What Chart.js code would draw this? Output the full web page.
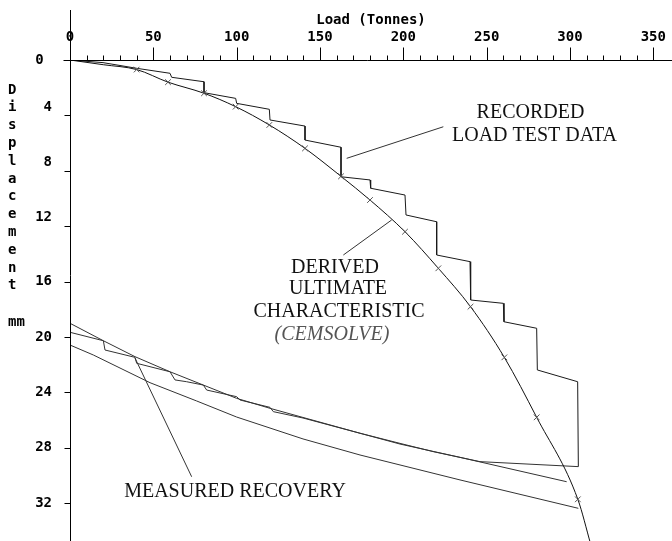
<!DOCTYPE html>
<html>
<head>
<meta charset="utf-8">
<script src="https://cdn.jsdelivr.net/npm/chart.js@4.4.1/dist/chart.umd.min.js"></script>
<style>
  html, body { margin: 0; padding: 0; background: #fff; }
  #wrap { width: 672px; height: 541px; }
</style>
</head>
<body>
<div id="wrap"><canvas id="chart" width="672" height="541"></canvas></div>
<script>
/* ===== DATA ===== */
// recorded load test, loading stages (load in tonnes, displacement in mm)
const loadTestLoad = [0, 19.8, 40.0, 60.0, 61.0, 80.4, 80.4, 99.4, 100.0, 119.6, 120.0, 141.0, 141.0, 162.6, 162.6,
  180.0, 180.4, 201.0, 201.6, 220.0, 220.0, 240.0, 240.4, 260.0, 260.4, 280.0, 280.4, 304.6, 305.0];
const loadTestDisp = [0, 0.19, 0.60, 0.96, 1.25, 1.57, 2.36, 2.77, 3.13, 3.56, 4.33, 4.77, 5.78, 6.30, 8.43,
  8.66, 9.26, 9.75, 11.19, 11.68, 14.08, 14.56, 17.33, 17.57, 18.90, 19.37, 22.38, 23.23, 29.36];

// recorded unloading (measured recovery)
const recoveryLoad = [305.0, 246.0, 218.0, 198.0, 174.0, 139.8, 122.0, 120.0, 102.0, 100.0, 82.0, 80.0, 70.0, 63.0,
  60.0, 40.0, 39.0, 21.0, 20.0, 0];
const recoveryDisp = [29.36, 29.00, 28.28, 27.68, 26.95, 25.85, 25.39, 25.08, 24.55, 24.31, 23.83, 23.47, 23.23, 23.10,
  22.51, 21.90, 21.47, 20.94, 20.27, 19.66];

// recovery lines starting on the derived curve
const upperRecoveryLoad = [298.0, 234.0, 198.0, 174.0, 120.0, 100.0, 80.0, 60.0, 39.0, 20.0, 0];
const upperRecoveryDisp = [30.45, 28.69, 27.73, 26.95, 25.15, 24.43, 23.47, 22.51, 21.42, 20.27, 19.01];
const lowerRecoveryLoad = [305.0, 234.0, 198.0, 174.0, 139.8, 100.0, 76.0, 48.0, 14.0, 0];
const lowerRecoveryDisp = [32.37, 30.32, 29.24, 28.52, 27.36, 25.78, 24.62, 23.30, 21.30, 20.58];

// derived ultimate characteristic (CEMSOLVE)
const derivedLoad = [0, 20, 40.0, 58.8, 80.4, 99.4, 119.6, 141.0, 162.6, 180.0, 201.0, 221.0, 240.3, 260.6, 280.0, 304.7, 312.5];
const derivedDisp = [0, 0.34, 0.69, 1.60, 2.40, 3.37, 4.69, 6.38, 8.40, 10.11, 12.40, 15.04, 17.81, 21.47, 25.80, 31.72, 35.0];
const derivedHasMarker = [false, false, true, true, true, true, true, true, true, true, true, true, true, true, true, true, false];

// leader lines for the notes
const leaderRecordedLoad = [166.0, 224.0];
const leaderRecordedDisp = [7.10, 4.82];
const leaderDerivedLoad = [164.0, 193.0];
const leaderDerivedDisp = [14.08, 11.55];
const leaderMeasuredLoad = [39.0, 73.0];
const leaderMeasuredDisp = [21.52, 30.09];

// notes, anchored at their centre
const noteText = ['RECORDED', 'LOAD TEST DATA', 'DERIVED', 'ULTIMATE', 'CHARACTERISTIC', '(CEMSOLVE)', 'MEASURED RECOVERY'];
const noteLoad = [276.3, 278.7, 159.0, 160.8, 161.4, 157.2, 99.0];
const noteDisp = [3.81, 5.45, 15.02, 16.53, 18.17, 19.86, 31.17];

// axes
const xTickLabels = [0, 50, 100, 150, 200, 250, 300, 350];
const yTickLabels = [0, 4, 8, 12, 16, 20, 24, 28, 32];
const yTitle = 'Displacement';
const yUnit = 'mm';

const pts = (xs, ys) => xs.map((v, i) => ({ x: v, y: ys[i] }));

/* ===== PAINTING ===== */
const monoFont = { family: '"DejaVu Sans Mono", monospace', size: 14, weight: 'bold' };

const axisPainter = {
  id: 'axisPainter',
  afterDatasetsDraw(chart) {
    const { ctx, scales: { x, y }, chartArea } = chart;
    const x0 = Math.round(x.getPixelForValue(0)) + 0.5;
    const y0 = Math.round(y.getPixelForValue(0)) + 0.5;
    ctx.save();
    ctx.strokeStyle = '#000';
    ctx.lineWidth = 1;
    ctx.beginPath();
    ctx.moveTo(x0, 10);
    ctx.lineTo(x0, chartArea.bottom);
    ctx.moveTo(x0 - 7, y0);
    ctx.lineTo(chartArea.right, y0);
    x.ticks.forEach(t => {
      if (t.value % 10 !== 0) return;
      const px = Math.round(x.getPixelForValue(t.value)) + 0.5;
      const len = xTickLabels.includes(t.value) ? 13 : 5;
      ctx.moveTo(px, y0);
      ctx.lineTo(px, y0 - len);
    });
    y.ticks.forEach(t => {
      if (t.value === 0 || !yTickLabels.includes(t.value)) return;
      const py = Math.round(y.getPixelForValue(t.value)) + 0.5;
      ctx.moveTo(x0 - 6, py);
      ctx.lineTo(x0, py);
    });
    ctx.stroke();

    // stacked y title
    ctx.fillStyle = '#000';
    ctx.font = 'bold 14px "DejaVu Sans Mono", monospace';
    ctx.textAlign = 'left';
    ctx.textBaseline = 'middle';
    yTitle.split('').forEach((ch, i) => ctx.fillText(ch, 8, 90 + i * 17.8));
    ctx.fillText(yUnit, 8, 322);

    // notes
    ctx.textAlign = 'center';
    noteText.forEach((txt, i) => {
      const italic = txt.startsWith('(');
      ctx.font = (italic ? 'italic ' : '') + '20px "Liberation Serif", "Times New Roman", serif';
      ctx.fillStyle = italic ? '#555' : '#111';
      ctx.fillText(txt, x.getPixelForValue(noteLoad[i]), y.getPixelForValue(noteDisp[i]));
    });
    ctx.restore();
  }
};

const lineSet = (data, color, extra) => Object.assign({
  data, showLine: true, borderColor: color, borderWidth: 1, pointRadius: 0, fill: false, tension: 0
}, extra || {});

new Chart(document.getElementById('chart'), {
  type: 'scatter',
  data: {
    datasets: [
      lineSet(pts(derivedLoad, derivedDisp), '#111', {
        cubicInterpolationMode: 'monotone',
        pointStyle: 'crossRot',
        pointRadius: ctx => derivedHasMarker[ctx.dataIndex] ? 4 : 0,
        pointBorderColor: '#555',
        pointBorderWidth: 1
      }),
      lineSet(pts(loadTestLoad, loadTestDisp), '#1a1a1a'),
      lineSet(pts(recoveryLoad, recoveryDisp), '#333'),
      lineSet(pts(upperRecoveryLoad, upperRecoveryDisp), '#333'),
      lineSet(pts(lowerRecoveryLoad, lowerRecoveryDisp), '#333'),
      lineSet(pts(leaderRecordedLoad, leaderRecordedDisp), '#333'),
      lineSet(pts(leaderDerivedLoad, leaderDerivedDisp), '#333'),
      lineSet(pts(leaderMeasuredLoad, leaderMeasuredDisp), '#333')
    ]
  },
  options: {
    responsive: false,
    animation: false,
    devicePixelRatio: 1,
    layout: { padding: 0 },
    plugins: { legend: { display: false }, tooltip: { enabled: false } },
    scales: {
      x: {
        type: 'linear', position: 'top', min: 0, max: 361.2,
        grid: { display: false, drawTicks: false }, border: { display: false },
        ticks: {
          stepSize: 10, autoSkip: false, maxRotation: 0, padding: 14, color: '#000', font: monoFont,
          callback: v => xTickLabels.includes(v) ? String(v) : ''
        },
        title: { display: true, text: 'Load (Tonnes)', color: '#000', font: monoFont, padding: { top: 12, bottom: 0 } },
        afterFit: s => { s.height = 60; s.paddingLeft = 0; s.paddingRight = 0; }
      },
      y: {
        type: 'linear', reverse: true, min: 0, max: 34.73,
        grid: { display: false, drawTicks: false }, border: { display: false },
        ticks: {
          stepSize: 4, autoSkip: false, padding: 18, color: '#000', font: monoFont,
          callback: v => {
            if (!yTickLabels.includes(v)) return '';
            if (v === 0) return '0 ';
            return v <= 12 ? [String(v), ''] : String(v);
          }
        },
        afterFit: s => { s.width = 70; s.paddingTop = 0; s.paddingBottom = 0; }
      }
    }
  },
  plugins: [axisPainter]
});
</script>
</body>
</html>
